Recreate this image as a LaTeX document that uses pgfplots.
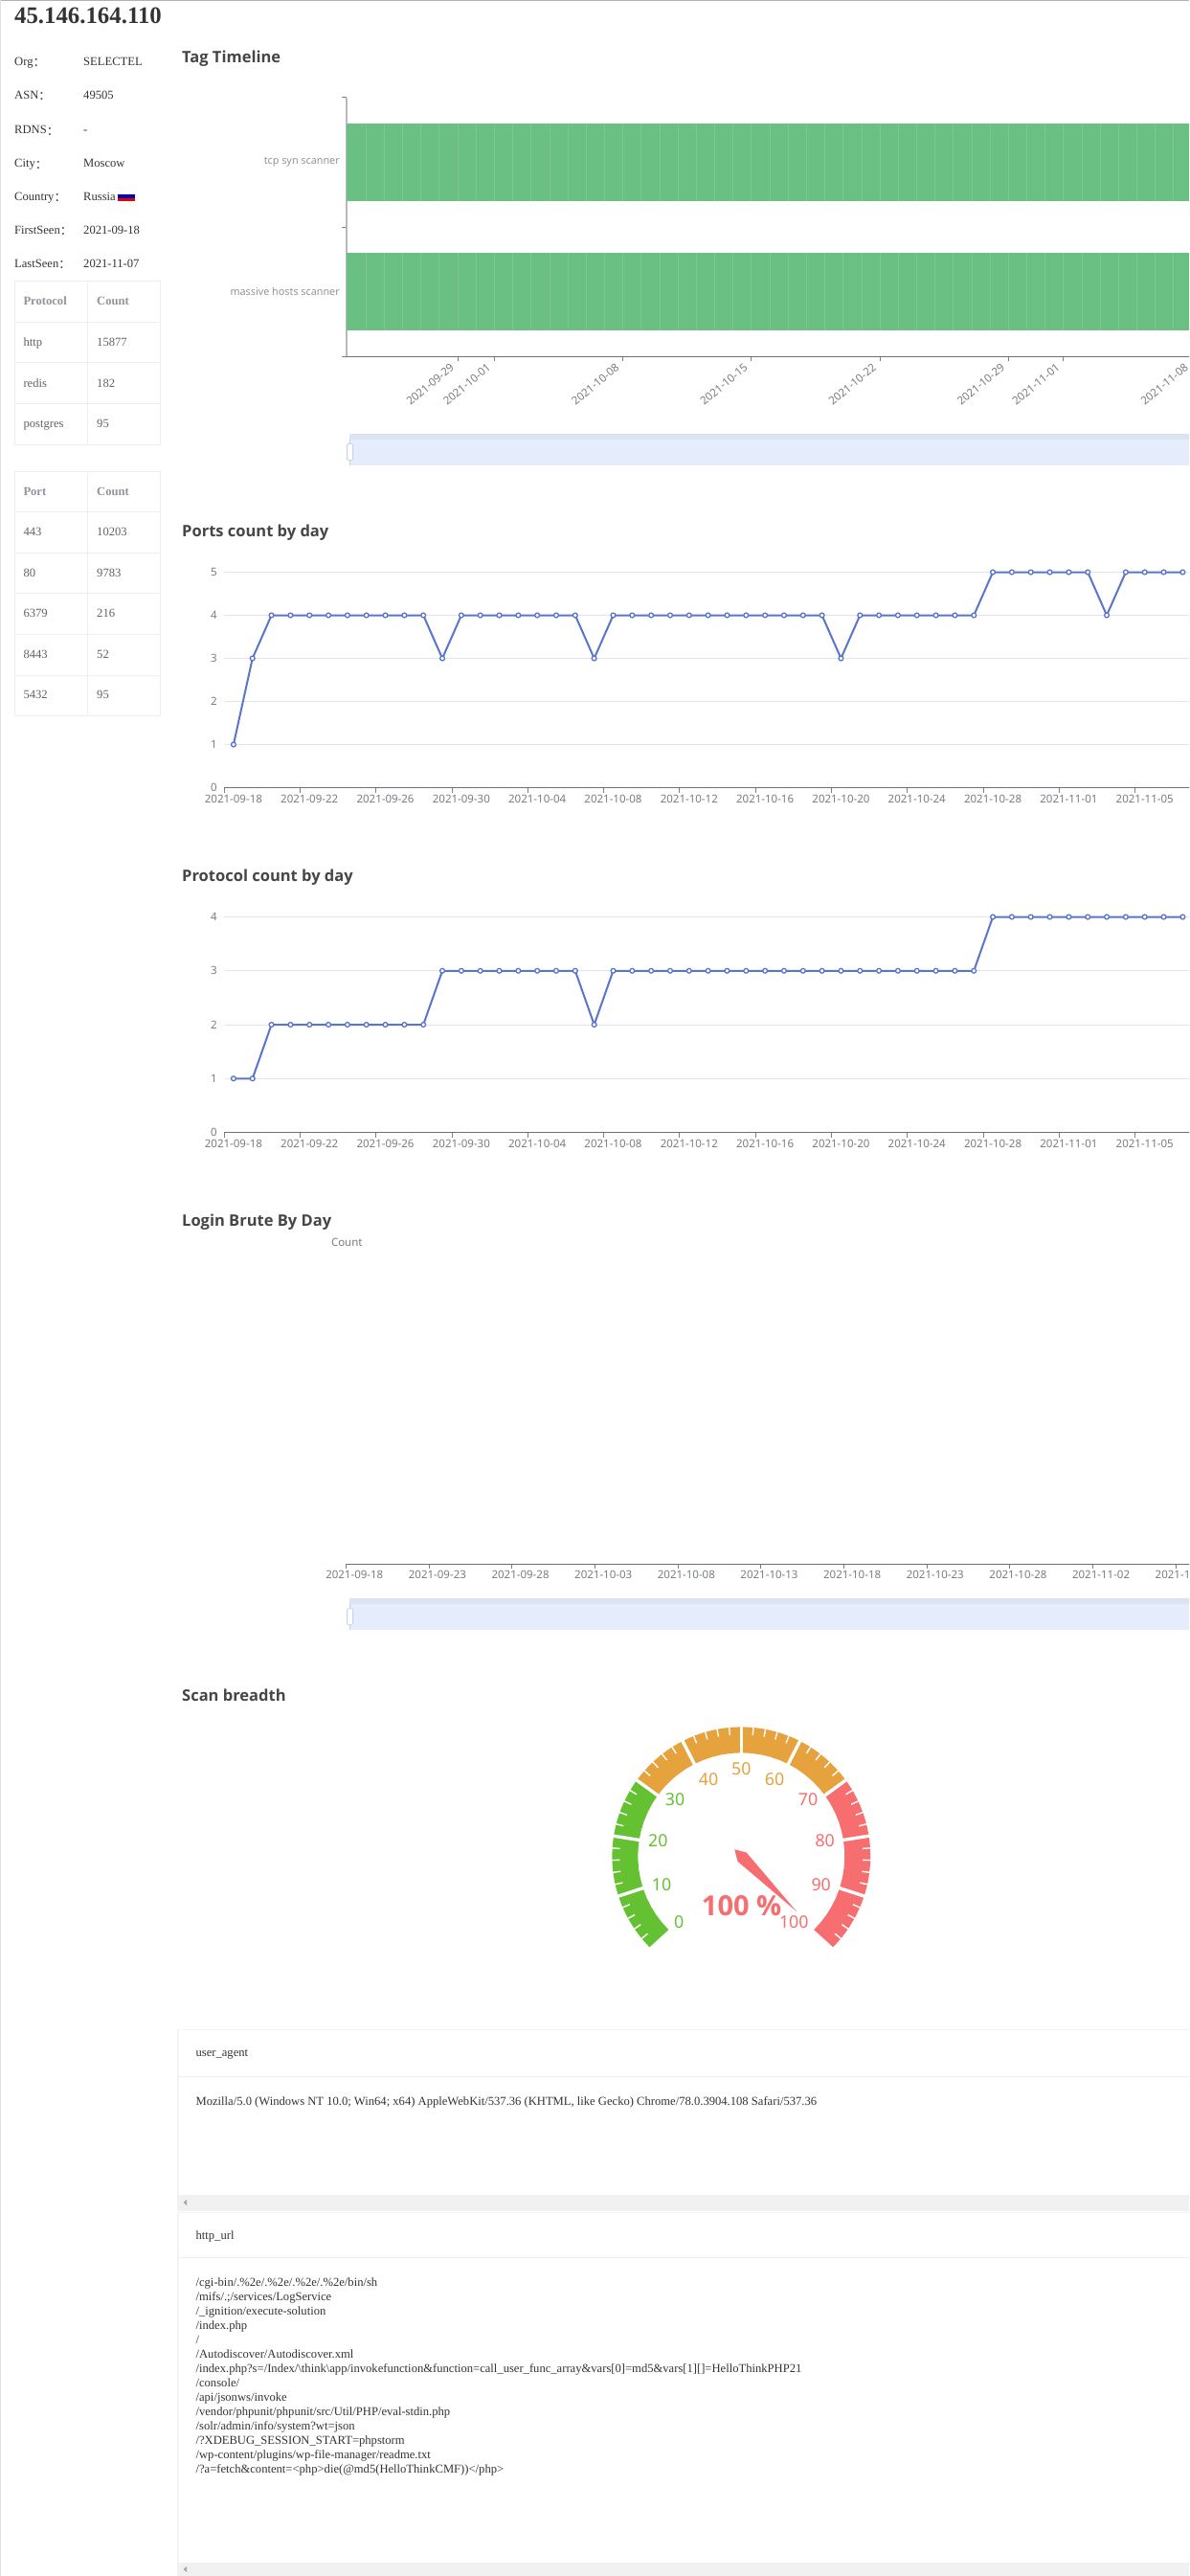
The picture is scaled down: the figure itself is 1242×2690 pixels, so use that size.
\documentclass[border=0pt]{standalone}
\usepackage{fontspec}
\usepackage{pgfplots}
\pgfplotsset{compat=1.18}
\usepgfplotslibrary{polar}
\setmainfont{Liberation Serif}
\newfontfamily\ns{Noto Sans}
\newfontfamily\os{Open Sans}
\newfontfamily\cjk{Noto Sans CJK SC}
\definecolor{txt}{HTML}{333333}
\definecolor{cell}{HTML}{606266}
\definecolor{head}{HTML}{909399}
\definecolor{bord}{HTML}{EBEEF5}
\definecolor{tick}{HTML}{6E7079}
\definecolor{ticktxt}{HTML}{7A7C85}
\definecolor{gridc}{HTML}{E0E6F1}
\definecolor{blue5}{HTML}{5B75CC}
\definecolor{grn}{HTML}{6ABF82}
\definecolor{grnsep}{HTML}{7DC794}
\definecolor{gtitle}{HTML}{464646}
\definecolor{gG}{HTML}{64C132}
\definecolor{gO}{HTML}{E6A23C}
\definecolor{gR}{HTML}{F76E70}
\definecolor{slA}{HTML}{DCE3F1}
\definecolor{slB}{HTML}{E5ECFB}
\definecolor{slC}{HTML}{C6D2EC}
\definecolor{scr}{HTML}{F1F1F1}
\newcommand{\Base}[3]{\node[anchor=base west,inner sep=0pt,text=txt] at (#1,#2+4.2) {\fontsize{12.6}{15}\selectfont #3};}
\newcommand{\Cell}[4][cell]{\node[anchor=base west,inner sep=0pt,text=#1] at (#2,#3+4.2) {\fontsize{12.6}{15}\selectfont #4};}
\newcommand{\Ttl}[2]{\node[anchor=base west,inner sep=0pt,text=gtitle] at (190,#1+6) {\os\bfseries\fontsize{16.5}{20}\selectfont #2};}
\newcommand{\GL}[4]{\node[text=#3,inner sep=0pt] at (#1,#2) {\ns\fontsize{17.8}{20}\selectfont #4};}
\newcommand{\Colon}{\raisebox{-1.2pt}{\cjk ：}}
\newcommand{\Slider}[2]{%
 \fill[slA] (365,#1) rectangle (1250,#1+6.4);
 \fill[slB] (365,#1+6.4) rectangle (1250,#1+32.7);
 \draw[slC,line width=.8] (365,#1+6.4) -- (365,#1+32.7) ;
 \draw[slC,fill=white,line width=.8,rounded corners=1.2] (362.6,#2) rectangle (368.6,#2+17);
}
\pgfplotsset{
 chart/.style={
  scale only axis, axis lines=left, axis line style={-,tick,line width=.9pt},
  tick align=outside, major tick length=0pt, minor tick length=5pt,
  minor tick style={tick,line width=.9pt},
  ticklabel style={font=\ns\fontsize{11.5}{14}\selectfont,text=ticktxt},
  /pgf/number format/assume math mode=true,
  xticklabel style={inner sep=0pt,yshift=-7pt,anchor=north},
  yticklabel style={inner sep=0pt,xshift=-7pt,anchor=east},
  y axis line style={draw=none},
  ymajorgrids, grid style={gridc,line width=.9pt},
  axis on top=false, clip=false
 },
 series5/.style={blue5,line width=2pt,mark=*,mark size=2.4pt,mark options={fill=white,draw=blue5,line width=1.3pt}}
}
\begin{document}
\begin{tikzpicture}[x=1pt,y=-1pt]
\path[use as bounding box] (0,0) rectangle (1242,2690);
\clip (0,0) rectangle (1242,2690);
\fill[white] (0,0) rectangle (1242,2690);
\draw[gray!60,line width=.8] (0,.4) -- (1242,.4);
\draw[gray!25,line width=.8] (.4,0) -- (.4,2690);
% ---------- left column
\node[anchor=base west,inner sep=0pt,text=txt] at (15,24) {\bfseries\fontsize{24.8}{28}\selectfont 45.146.164.110};
\Base{15}{64.5}{Org\Colon}\Base{87}{64.5}{SELECTEL}
\Base{15}{99.4}{ASN\Colon}\Base{87}{99.4}{49505}
\Base{15}{135.7}{RDNS\Colon}\Base{87}{135.7}{-}
\Base{15}{170.6}{City\Colon}\Base{87}{170.6}{Moscow}
\Base{15}{205.5}{Country\Colon}\Base{87}{205.5}{Russia}
\fill[white!96!black] (123.3,202) rectangle (140.7,204.5);
\fill[blue!75!black] (123.3,203) rectangle (140.7,207);
\fill[red!90!black] (123.3,207) rectangle (140.7,210.2);
\Base{15}{240.4}{FirstSeen\Colon}\Base{87}{240.4}{2021-09-18}
\Base{15}{275.3}{LastSeen\Colon}\Base{87}{275.3}{2021-11-07}
% tables
\begin{scope}[bord,line width=.9]
\draw (15,293.7) rectangle (167,464.4); \draw (91.7,293.7) -- (91.7,464.4);
\draw (15,336.4) -- (167,336.4); \draw (15,378.6) -- (167,378.6); \draw (15,421.7) -- (167,421.7);
\draw (15,492.5) rectangle (167,747.5); \draw (91.7,492.5) -- (91.7,747.5);
\draw (15,534.6) -- (167,534.6); \draw (15,577.3) -- (167,577.3); \draw (15,619.5) -- (167,619.5);
\draw (15,662.6) -- (167,662.6); \draw (15,705.3) -- (167,705.3);
\end{scope}
\Cell[head]{24.3}{314.6}{\bfseries Protocol}\Cell[head]{101}{314.6}{\bfseries Count}
\Cell{24.3}{357.7}{http}\Cell{101}{357.7}{15877}
\Cell{24.3}{400}{redis}\Cell{101}{400}{182}
\Cell{24.3}{442.6}{postgres}\Cell{101}{442.6}{95}
\Cell[head]{24.3}{512.9}{\bfseries Port}\Cell[head]{101}{512.9}{\bfseries Count}
\Cell{24.3}{555.5}{443}\Cell{101}{555.5}{10203}
\Cell{24.3}{598.6}{80}\Cell{101}{598.6}{9783}
\Cell{24.3}{640}{6379}\Cell{101}{640}{216}
\Cell{24.3}{683.5}{8443}\Cell{101}{683.5}{52}
\Cell{24.3}{725.6}{5432}\Cell{101}{725.6}{95}
% ---------- titles
\Ttl{59}{Tag Timeline}
\Ttl{554}{Ports count by day}
\Ttl{914.4}{Protocol count by day}
\Ttl{1274.7}{Login Brute By Day}
\Ttl{1770}{Scan breadth}
% ---------- timeline
\begin{axis}[chart, at={(362pt,-372.3pt)}, anchor=south west, width=883pt, height=270.5pt,
  xmin=4.95, xmax=51, ymin=0, ymax=2,
  ymajorgrids=false, y axis line style={draw=gray!55,line width=1.4pt},
  xtick={11,13,20,27,34,41,44,51},
  xticklabels={2021-09-29,2021-10-01,2021-10-08,2021-10-15,2021-10-22,2021-10-29,2021-11-01,2021-11-08},
  minor xtick={11,13,20,27,34,41,44,51},
  xticklabel style={rotate=40,anchor=north east,yshift=6pt,xshift=-6pt},
  ytick={0.5,1.5}, yticklabels={massive hosts scanner,tcp syn scanner},
  minor ytick={0,1,2},
  yticklabel style={font=\ns\fontsize{10.8}{13}\selectfont,text=head}]
\addplot[fill=grn,draw=none,forget plot] coordinates {(4.95,1.2)(51,1.2)(51,1.8)(4.95,1.8)} --cycle;
\addplot[fill=grn,draw=none,forget plot] coordinates {(4.95,0.205)(51,0.205)(51,0.8)(4.95,0.8)} --cycle;
\addplot[only marks,mark=|,mark size=40.5pt,mark options={draw=grnsep,line width=.7pt},forget plot] coordinates {
(6,1.5)(7,1.5)(8,1.5)(9,1.5)(10,1.5)(11,1.5)(12,1.5)(13,1.5)(14,1.5)(15,1.5)(16,1.5)(17,1.5)(18,1.5)(19,1.5)(20,1.5)(21,1.5)(22,1.5)(23,1.5)(24,1.5)(25,1.5)(26,1.5)(27,1.5)(28,1.5)(29,1.5)(30,1.5)(31,1.5)(32,1.5)(33,1.5)(34,1.5)(35,1.5)(36,1.5)(37,1.5)(38,1.5)(39,1.5)(40,1.5)(41,1.5)(42,1.5)(43,1.5)(44,1.5)(45,1.5)(46,1.5)(47,1.5)(48,1.5)(49,1.5)(50,1.5)};
\addplot[only marks,mark=|,mark size=40.3pt,mark options={draw=grnsep,line width=.7pt},forget plot] coordinates {
(6,.5025)(7,.5025)(8,.5025)(9,.5025)(10,.5025)(11,.5025)(12,.5025)(13,.5025)(14,.5025)(15,.5025)(16,.5025)(17,.5025)(18,.5025)(19,.5025)(20,.5025)(21,.5025)(22,.5025)(23,.5025)(24,.5025)(25,.5025)(26,.5025)(27,.5025)(28,.5025)(29,.5025)(30,.5025)(31,.5025)(32,.5025)(33,.5025)(34,.5025)(35,.5025)(36,.5025)(37,.5025)(38,.5025)(39,.5025)(40,.5025)(41,.5025)(42,.5025)(43,.5025)(44,.5025)(45,.5025)(46,.5025)(47,.5025)(48,.5025)(49,.5025)(50,.5025)};
\end{axis}
\Slider{453}{463.5}
% ---------- ports
\begin{axis}[chart, at={(234pt,-822.5pt)}, anchor=south west, width=1011.3pt, height=225pt,
  xmin=-0.5, xmax=50.5, ymin=0, ymax=5,
  xtick={0,4,...,48},
  xticklabels={2021-09-18,2021-09-22,2021-09-26,2021-09-30,2021-10-04,2021-10-08,2021-10-12,2021-10-16,2021-10-20,2021-10-24,2021-10-28,2021-11-01,2021-11-05},
  minor xtick={-0.5,3.5,...,47.5},
  ytick={0,1,2,3,4,5}]
\addplot[series5] table {
x y
0 1
1 3
2 4
3 4
4 4
5 4
6 4
7 4
8 4
9 4
10 4
11 3
12 4
13 4
14 4
15 4
16 4
17 4
18 4
19 3
20 4
21 4
22 4
23 4
24 4
25 4
26 4
27 4
28 4
29 4
30 4
31 4
32 3
33 4
34 4
35 4
36 4
37 4
38 4
39 4
40 5
41 5
42 5
43 5
44 5
45 5
46 4
47 5
48 5
49 5
50 5
};
\end{axis}
% ---------- protocol
\begin{axis}[chart, at={(234pt,-1182.5pt)}, anchor=south west, width=1011.3pt, height=225pt,
  xmin=-0.5, xmax=50.5, ymin=0, ymax=4,
  xtick={0,4,...,48},
  xticklabels={2021-09-18,2021-09-22,2021-09-26,2021-09-30,2021-10-04,2021-10-08,2021-10-12,2021-10-16,2021-10-20,2021-10-24,2021-10-28,2021-11-01,2021-11-05},
  minor xtick={-0.5,3.5,...,47.5},
  ytick={0,1,2,3,4}]
\addplot[series5] table {
x y
0 1
1 1
2 2
3 2
4 2
5 2
6 2
7 2
8 2
9 2
10 2
11 3
12 3
13 3
14 3
15 3
16 3
17 3
18 3
19 2
20 3
21 3
22 3
23 3
24 3
25 3
26 3
27 3
28 3
29 3
30 3
31 3
32 3
33 3
34 3
35 3
36 3
37 3
38 3
39 3
40 4
41 4
42 4
43 4
44 4
45 4
46 4
47 4
48 4
49 4
50 4
};
\end{axis}
% ---------- login brute
\node[text=ticktxt,inner sep=0pt] at (362.3,1297) {\ns\fontsize{11.5}{14}\selectfont Count};
\begin{axis}[chart, at={(361.6pt,-1633pt)}, anchor=south west, width=883.8pt, height=336pt,
  xmin=-0.5, xmax=50.5, ymin=0, ymax=1,
  ymajorgrids=false,
  xtick={0,5,...,50},
  xticklabels={2021-09-18,2021-09-23,2021-09-28,2021-10-03,2021-10-08,2021-10-13,2021-10-18,2021-10-23,2021-10-28,2021-11-02,2021-11-07},
  minor xtick={-0.5,4.5,...,49.5},
  ytick=\empty]
\end{axis}
\Slider{1669}{1679.7}
% ---------- gauge
\begin{polaraxis}[at={(774.3pt,-1938.3pt)}, anchor=origin, scale only axis, width=270pt, height=270pt,
  hide axis, xmin=0, xmax=360, ymin=0, ymax=135, clip=false]
\addplot[gG,line width=27pt,no marks,line join=round] coordinates {(225,121.5)(219.6,121.5)(214.2,121.5)(208.8,121.5)(203.4,121.5)(198,121.5)(192.6,121.5)(187.2,121.5)(181.8,121.5)(176.4,121.5)(171,121.5)(165.6,121.5)(160.2,121.5)(154.8,121.5)(149.4,121.5)(144,121.5)};
\addplot[gO,line width=27pt,no marks,line join=round] coordinates {(144,121.5)(138.6,121.5)(133.2,121.5)(127.8,121.5)(122.4,121.5)(117,121.5)(111.6,121.5)(106.2,121.5)(100.8,121.5)(95.4,121.5)(90,121.5)(84.6,121.5)(79.2,121.5)(73.8,121.5)(68.4,121.5)(63,121.5)(57.6,121.5)(52.2,121.5)(46.8,121.5)(41.4,121.5)(36,121.5)};
\addplot[gR,line width=27pt,no marks,line join=round] coordinates {(36,121.5)(30.6,121.5)(25.2,121.5)(19.8,121.5)(14.4,121.5)(9,121.5)(3.6,121.5)(-1.8,121.5)(-7.2,121.5)(-12.6,121.5)(-18,121.5)(-23.4,121.5)(-28.8,121.5)(-34.2,121.5)(-39.6,121.5)(-45,121.5)};
\pgfplotsinvokeforeach{198,171,144,117,90,63,36,9,-18}{
 \addplot[white,line width=3.4pt,no marks] coordinates {(#1,106)(#1,137)};
}
\pgfplotsinvokeforeach{219.6,214.2,208.8,203.4,192.6,187.2,181.8,176.4,165.6,160.2,154.8,149.4,138.6,133.2,127.8,122.4,111.6,106.2,100.8,95.4,84.6,79.2,73.8,68.4,57.6,52.2,46.8,41.4,30.6,25.2,19.8,14.4,3.6,-1.8,-7.2,-12.6,-23.4,-28.8,-34.2,-39.6}{
 \addplot[white,line width=1.4pt,no marks] coordinates {(#1,127)(#1,136)};
}
\addplot[fill=gR,draw=none,no marks] coordinates {(-45,81.7)(35,6.6)(135,10)(-125,6.6)} --cycle;
\end{polaraxis}
\GL{709.3}{2007.3}{gG}{0}
\GL{691}{1967.7}{gG}{10}
\GL{687.3}{1921.7}{gG}{20}
\GL{705}{1879}{gG}{30}
\GL{740}{1857.7}{gO}{40}
\GL{774.3}{1847.3}{gO}{50}
\GL{809}{1857.7}{gO}{60}
\GL{844}{1879}{gR}{70}
\GL{861.7}{1921.7}{gR}{80}
\GL{857.7}{1967.7}{gR}{90}
\GL{829.3}{2007.3}{gR}{100}
\node[text=gR,inner sep=0pt] at (774.6,1990) {\os\bfseries\fontsize{29}{34}\selectfont 100 \%};
% ---------- cards
\begin{scope}
\draw[bord!70,line width=1.2] (1242,2119.5) -- (186,2119.5) -- (186,2308);
\draw[bord!70,line width=1.2] (1242,2310.5) -- (186,2310.5) -- (186,2690);
\draw[bord,line width=.9] (186,2168.4) -- (1242,2168.4);
\draw[bord,line width=.9] (186,2357.9) -- (1242,2357.9);
\fill[scr] (186,2291.7) rectangle (1242,2308.6);
\fill[scr] (186,2676) rectangle (1242,2690);
\fill[gray!70] (191.5,2300) -- (195,2297) -- (195,2303) -- cycle;
\fill[gray!70] (191.5,2683) -- (195,2680) -- (195,2686) -- cycle;
\end{scope}
\Base{204.4}{2143}{user\_agent}
\Base{204.4}{2194}{Mozilla/5.0 (Windows NT 10.0; Win64; x64) AppleWebKit/537.36 (KHTML, like Gecko) Chrome/78.0.3904.108 Safari/537.36}
\Base{204.4}{2333.8}{http\_url}
\Base{204.4}{2383}{/cgi-bin/.\%2e/.\%2e/.\%2e/.\%2e/bin/sh}
\Base{204.4}{2398}{/mifs/.;/services/LogService}
\Base{204.4}{2413}{/\_ignition/execute-solution}
\Base{204.4}{2428}{/index.php}
\Base{204.4}{2443}{/}
\Base{204.4}{2458}{/Autodiscover/Autodiscover.xml}
\Base{204.4}{2473}{/index.php?s=/Index/\textbackslash think\textbackslash app/invokefunction\&function=call\_user\_func\_array\&vars[0]=md5\&vars[1][]=HelloThinkPHP21}
\Base{204.4}{2488}{/console/}
\Base{204.4}{2503}{/api/jsonws/invoke}
\Base{204.4}{2518}{/vendor/phpunit/phpunit/src/Util/PHP/eval-stdin.php}
\Base{204.4}{2533}{/solr/admin/info/system?wt=json}
\Base{204.4}{2548}{/?XDEBUG\_SESSION\_START=phpstorm}
\Base{204.4}{2563}{/wp-content/plugins/wp-file-manager/readme.txt}
\Base{204.4}{2578}{/?a=fetch\&content=<php>die(@md5(HelloThinkCMF))</php>}
\end{tikzpicture}
\end{document}
